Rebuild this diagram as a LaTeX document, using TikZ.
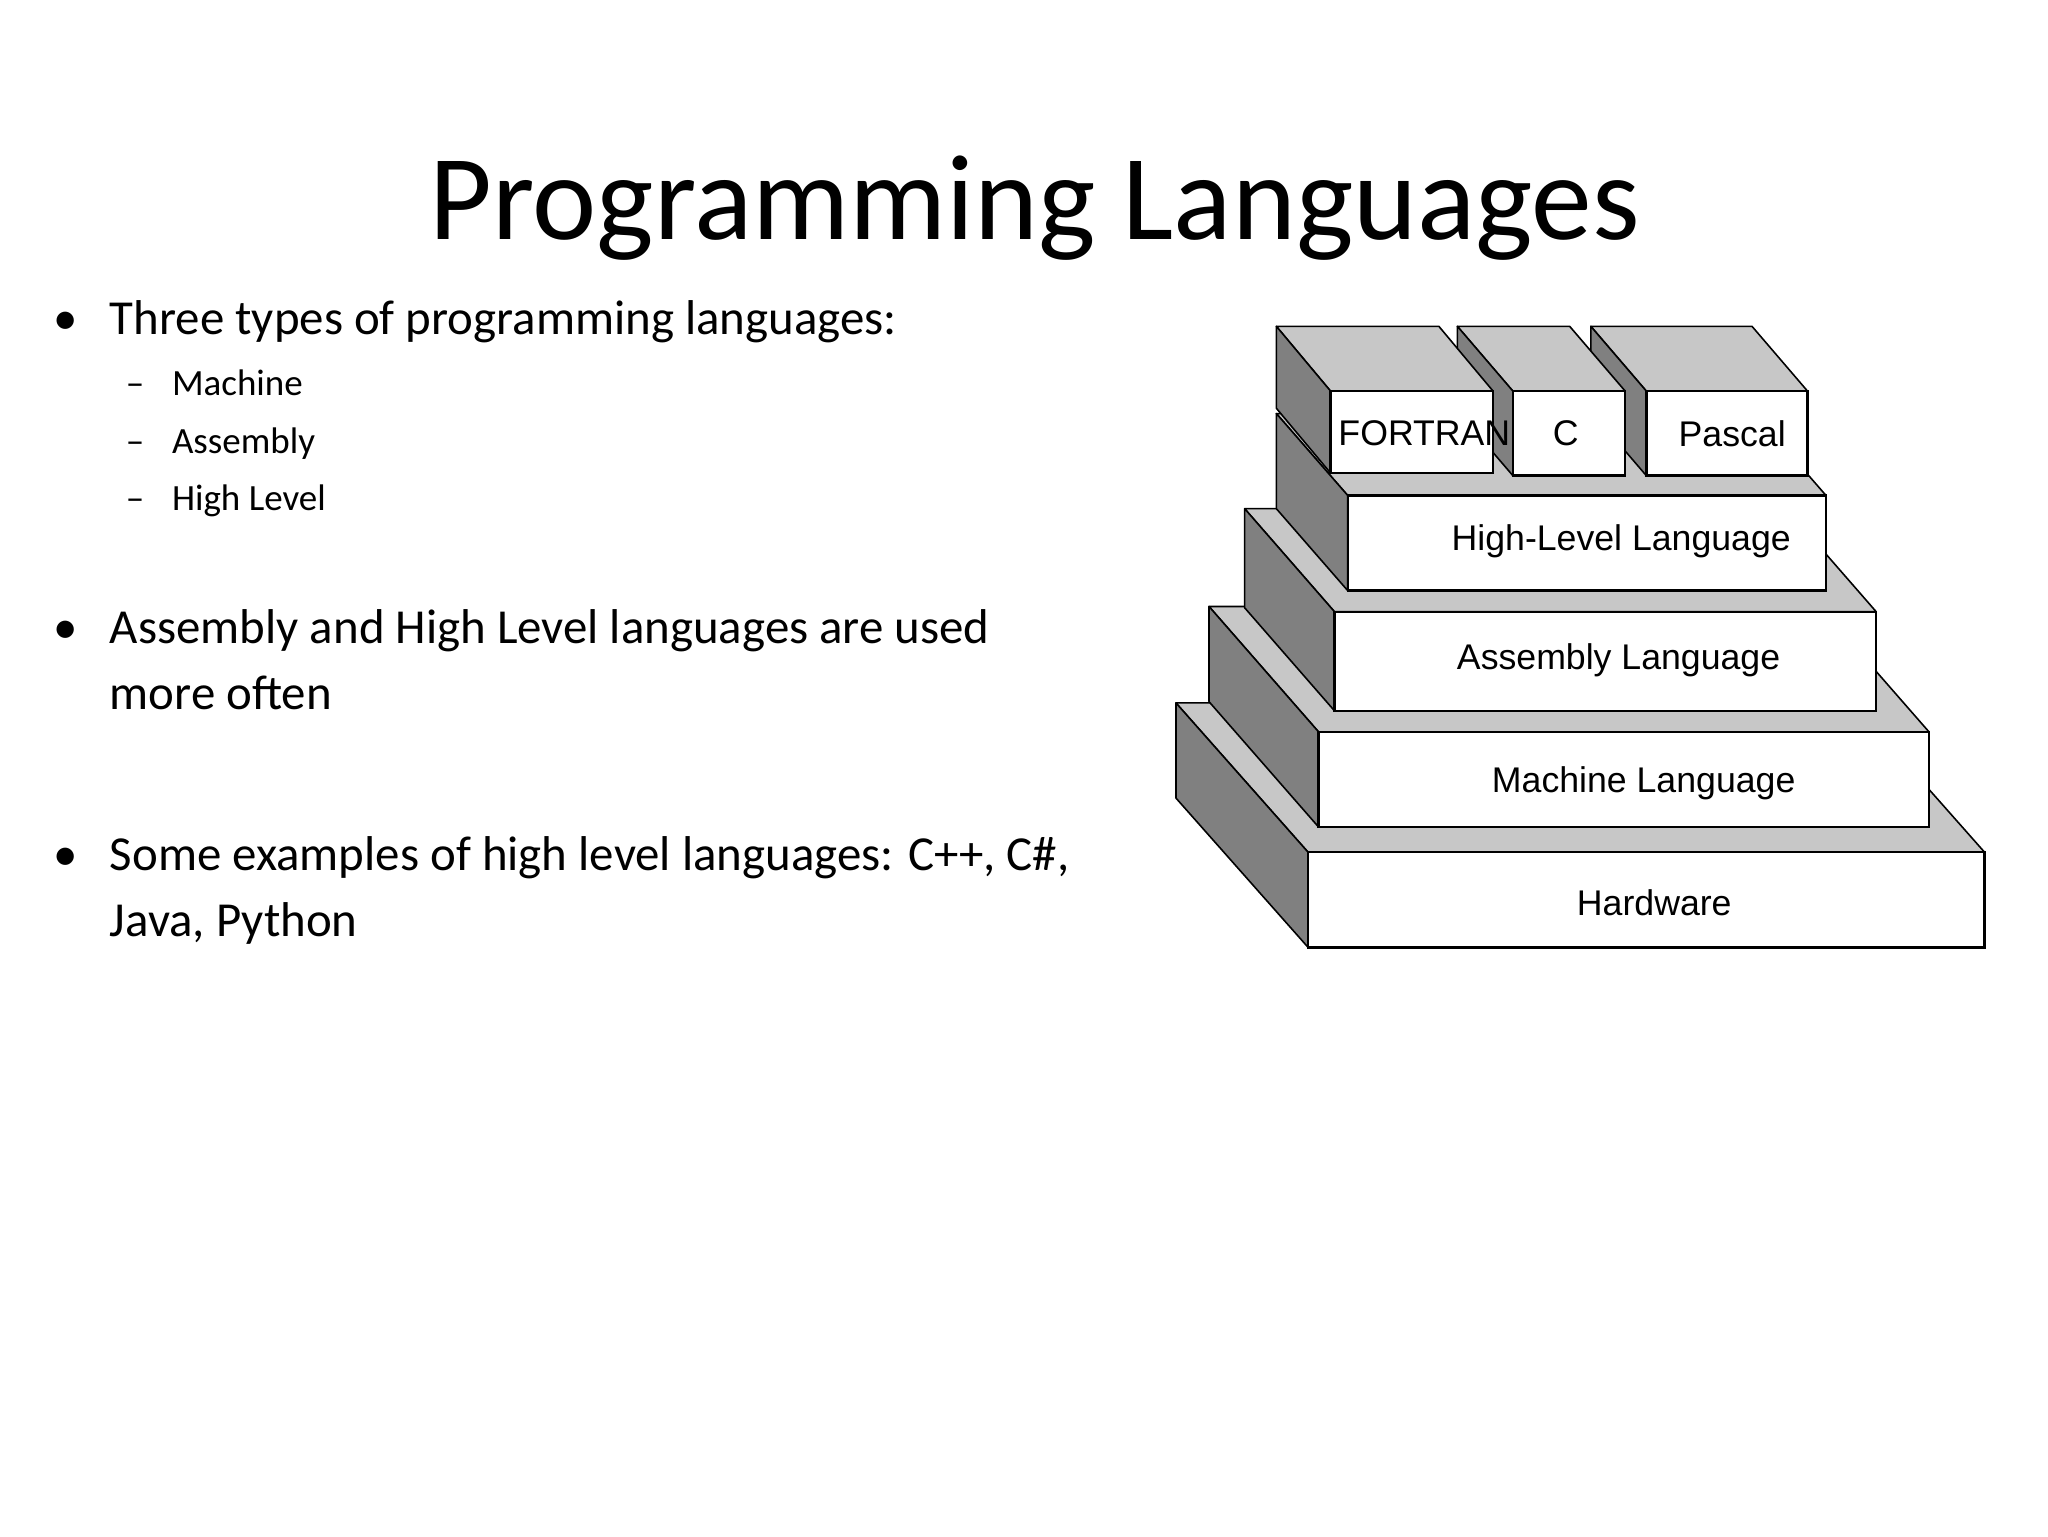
\documentclass[tikz,border=0pt]{standalone}
\usepackage{fontspec}
\setmainfont{Carlito}
\newfontfamily\pixfont{Liberation Sans}
\begin{document}
\begin{tikzpicture}[x=1pt,y=-1pt,
  topface/.style={fill=black!22,draw=black,line width=1.2pt,line join=round},
  sideface/.style={fill=black!50,draw=black,line width=1.2pt,line join=round},
  frontface/.style={fill=white,draw=black,line width=1.8pt},
  lbl/.style={font=\pixfont\fontsize{27}{30}\selectfont,inner sep=0pt},
  bul/.style={anchor=base west,inner sep=0pt,font=\fontsize{37}{44}\selectfont},
  sub/.style={anchor=base west,inner sep=0pt,font=\fontsize{28}{33}\selectfont}]
\useasboundingbox[fill=white] (0,0) rectangle (1550,1162.5);
\node[font=\fontsize{92}{100}\selectfont,inner sep=0pt,anchor=base] (title) at (783,181) {Programming Languages};
\node[bul] (b1d) at (40,253) {\textbullet};
\node[bul] (b1) at (83,253) {Three types of programming languages:};
\node[sub] (s1d) at (95,299) {--}; \node[sub] (s1) at (130,299) {Machine};
\node[sub] (s2d) at (95,343) {--}; \node[sub] (s2) at (130,343) {Assembly};
\node[sub] (s3d) at (95,386) {--}; \node[sub] (s3) at (130,386) {High Level};
\node[bul] (b2d) at (40,487) {\textbullet};
\node[bul] (b2) at (83,487) {Assembly and High Level languages are used};
\node[bul] (b2b) at (83,537) {more often};
\node[bul] (b3d) at (40,659) {\textbullet};
\node[bul] (b3) at (83,659) {Some examples of high level languages: C++, C\#,};
\node[bul] (b3b) at (83,709) {Java, Python};
% layer: x1 x2 y1 y2 dx dy
\newcommand{\layer}[6]{%
  \draw[topface] (#1,#3) -- (#2,#3) -- ++(#5,#6) -- (#1+#5,#3+#6) -- cycle;
  \draw[sideface] (#1,#3) -- (#1,#4) -- (#1+#5,#4+#6) -- (#1+#5,#3+#6) -- cycle;
  \draw[frontface] (#1,#3) rectangle (#2,#4);}
\layer{990}{1502}{645}{717}{-100}{-113}
\node[lbl] (hw) at (1252,683) {Hardware};
\layer{998}{1460}{554}{626}{-83}{-95}
\node[lbl] (ml) at (1244,593) {Machine Language};
\layer{1010}{1420}{463}{538}{-68}{-78}
\node[lbl] (al) at (1225,500) {Assembly Language};
\layer{1020}{1382}{375}{447}{-54}{-62}
\node[lbl] (hl) at (1227,410) {High-Level Language};
\layer{1246}{1368}{296}{360}{-42}{-49}
\layer{1145}{1230}{296}{360}{-42}{-49}
\layer{1007}{1130}{296}{358}{-41}{-49}
\node[lbl] (ft) at (1078,328) {FORTRAN};
\node[lbl] (cc) at (1185,328) {C};
\node[lbl] (pa) at (1311,328) {Pascal};
\end{tikzpicture}
\end{document}
